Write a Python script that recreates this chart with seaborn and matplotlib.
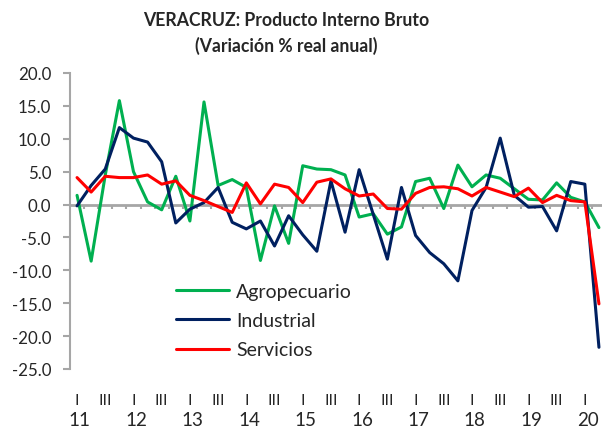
import matplotlib
matplotlib.use("Agg")
import matplotlib.pyplot as plt
import matplotlib.transforms as mtransforms
import seaborn as sns
import numpy as np
import pandas as pd

# Quarterly data, 2011-I to 2020-II
years = ["11", "12", "13", "14", "15", "16", "17", "18", "19", "20"]
quarter_labels = ["I", "", "III", ""]

agropecuario = [1.4, -8.6, 4.5, 15.8, 5.0, 0.4, -0.8, 4.3,
                -2.5, 15.6, 2.9, 3.8, 2.6, -8.5, -0.2, -5.9,
                5.9, 5.4, 5.3, 4.5, -1.9, -1.4, -4.5, -3.4,
                3.5, 4.0, -0.6, 6.0, 2.7, 4.5, 4.0, 2.4,
                0.8, 0.7, 3.3, 1.1, 0.4, -3.5]
industrial = [-0.2, 2.9, 5.4, 11.7, 10.1, 9.5, 6.5, -2.8,
              -0.7, 0.3, 2.6, -2.7, -3.7, -2.5, -6.3, -1.7,
              -4.6, -7.1, 3.6, -4.2, 5.3, -1.5, -8.3, 2.6,
              -4.7, -7.3, -9.0, -11.6, -0.9, 2.6, 10.1, 1.4,
              -0.4, -0.3, -4.0, 3.5, 3.1, -21.7]
servicios = [4.1, 1.9, 4.3, 4.1, 4.1, 4.5, 3.1, 3.6,
             1.4, 0.6, -0.3, -1.2, 3.3, 0.1, 3.1, 2.6,
             0.3, 3.4, 3.9, 2.4, 1.3, 1.6, -0.6, -0.7,
             1.7, 2.6, 2.7, 2.4, 1.3, 2.6, 1.9, 1.2,
             2.5, 0.3, 1.4, 0.6, 0.4, -15.1]

series = {"Agropecuario": agropecuario, "Industrial": industrial, "Servicios": servicios}
colors = {"Agropecuario": "#00B050", "Industrial": "#002060", "Servicios": "#FF0000"}

n = len(servicios)
df = pd.concat([pd.DataFrame({"q": np.arange(n), "val": v, "sector": k})
                for k, v in series.items()], ignore_index=True)

sns.set_theme(style="white")
plt.rcParams['font.family'] = ['Lato', 'DejaVu Sans']
plt.rcParams['axes.unicode_minus'] = False

fig = plt.figure(figsize=(6.02, 4.31), dpi=100)
ax = fig.add_axes([70 / 602, 61 / 431, 536 / 602, 296 / 431])

gray = "#A6A6A6"
ax.axhline(0, color=gray, lw=2, zorder=1)
ax.vlines(np.arange(n - 1) + 0.5, -0.75, 0, color=gray, lw=1.5, zorder=1)

sns.lineplot(data=df, x="q", y="val", hue="sector", palette=colors,
             linewidth=2.2, ax=ax, zorder=3)

ax.set_xlim(-0.5, n - 0.5)
ax.set_ylim(-25, 20)
ax.set_yticks(np.arange(-25, 21, 5))
ax.set_yticklabels([f"{v:.1f}" for v in np.arange(-25, 21, 5)], fontsize=13)
ax.set_xticks(np.arange(n))
ax.set_xticklabels([quarter_labels[i % 4] for i in range(n)], fontsize=11.5)
ax.tick_params(axis="x", length=0, pad=17)
ax.tick_params(axis="y", length=5, width=1.5, color=gray, direction="out", pad=8.6, left=True)
ax.set_xlabel("")
ax.set_ylabel("")

for s in ["top", "right", "bottom"]:
    ax.spines[s].set_visible(False)
ax.spines["left"].set_color(gray)
ax.spines["left"].set_linewidth(1.5)

trans = mtransforms.blended_transform_factory(ax.transData, fig.transFigure)
for i, y in enumerate(years):
    ax.text(i * 4 + 0.2, 5 / 431, y, transform=trans, ha="center", va="baseline", fontsize=13.5)

leg = ax.legend(loc="upper left", bbox_to_anchor=(176 / 602, 1 - 284 / 431),
                bbox_transform=fig.transFigure, frameon=False, fontsize=14,
                handlelength=2.7, handletextpad=0.4, labelspacing=0.63,
                borderpad=0, borderaxespad=0)
for h in leg.get_lines():
    h.set_linewidth(2.2)

t1 = fig.text(286 / 602, 1 - 20 / 431, "VERACRUZ: Producto Interno Bruto", ha="center", va="center",
              fontsize=15, fontweight="bold")
t2 = fig.text(286 / 602, 1 - 46 / 431, "(Variación % real anual)", ha="center", va="center",
              fontsize=15, fontweight="bold")

# size the title and y labels to the widths seen in the reference
fig.canvas.draw()
r = fig.canvas.get_renderer()
fs = 15 * 286 / t1.get_window_extent(r).width
t1.set_fontsize(fs)
t2.set_fontsize(fs)
lab = ax.get_yticklabels()[-1]
yfs = 13 * 33 / lab.get_window_extent(r).width
ax.tick_params(axis="y", labelsize=yfs)

fig.savefig("out.png", dpi=100)
